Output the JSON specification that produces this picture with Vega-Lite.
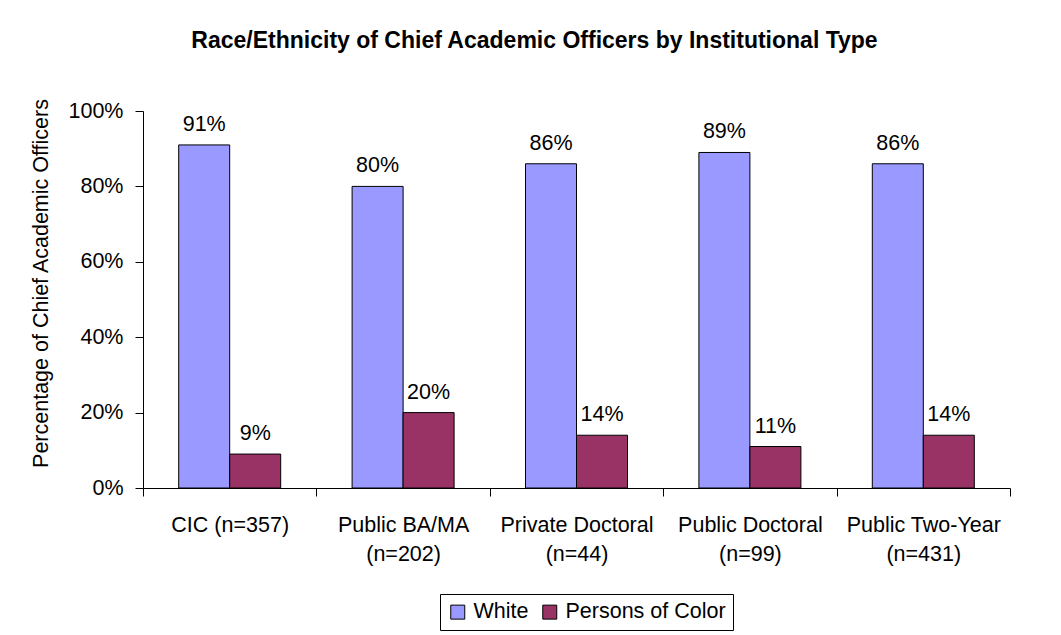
{
  "$schema": "https://vega.github.io/schema/vega-lite/v6.json",
  "width": 867,
  "height": 377,
  "autosize": {"type": "none"},
  "padding": {"left": 143, "top": 111, "right": 51, "bottom": 147},
  "background": "white",
  "config": {
    "font": "Liberation Sans",
    "view": {"stroke": null},
    "axis": {"labelColor": "black", "titleColor": "black", "domainColor": "black", "tickColor": "black", "labelFont": "Liberation Sans", "titleFont": "Liberation Sans"}
  },
  "title": {
    "text": "Race/Ethnicity of Chief Academic Officers by Institutional Type",
    "font": "Liberation Sans",
    "fontSize": 23,
    "fontWeight": "bold",
    "color": "black",
    "frame": "group",
    "anchor": "middle",
    "dx": -42,
    "offset": 27,
    "baseline": "alphabetic"
  },
  "data": {
    "values": [
      {"institution": "CIC (n=357)", "group": "White", "value": 0.91},
      {"institution": "CIC (n=357)", "group": "Persons of Color", "value": 0.09},
      {"institution": "Public BA/MA (n=202)", "group": "White", "value": 0.80},
      {"institution": "Public BA/MA (n=202)", "group": "Persons of Color", "value": 0.20},
      {"institution": "Private Doctoral (n=44)", "group": "White", "value": 0.86},
      {"institution": "Private Doctoral (n=44)", "group": "Persons of Color", "value": 0.14},
      {"institution": "Public Doctoral (n=99)", "group": "White", "value": 0.89},
      {"institution": "Public Doctoral (n=99)", "group": "Persons of Color", "value": 0.11},
      {"institution": "Public Two-Year (n=431)", "group": "White", "value": 0.86},
      {"institution": "Public Two-Year (n=431)", "group": "Persons of Color", "value": 0.14}
    ]
  },
  "encoding": {
    "x": {
      "field": "institution",
      "type": "nominal",
      "sort": ["CIC (n=357)", "Public BA/MA (n=202)", "Private Doctoral (n=44)", "Public Doctoral (n=99)", "Public Two-Year (n=431)"],
      "scale": {"paddingInner": 0, "paddingOuter": 0},
      "axis": {
        "title": null,
        "labelAngle": 0,
        "tickBand": "extent",
        "tickSize": 8,
        "labelPadding": 18,
        "labelFontSize": 21.5,
        "labelLineHeight": 29,
        "labelLimit": 300,
        "labelExpr": "!isValid(datum.value) ? '' : (datum.value == 'CIC (n=357)' ? datum.value : split(replace(datum.value, ' (', '|('), '|'))"
      }
    },
    "xOffset": {
      "field": "group",
      "type": "nominal",
      "sort": ["White", "Persons of Color"],
      "scale": {"paddingInner": 0, "paddingOuter": 0.7}
    },
    "y": {
      "field": "value",
      "type": "quantitative",
      "scale": {"domain": [0, 1]},
      "axis": {
        "title": "Percentage of Chief Academic Officers",
        "titleFontSize": 21.5,
        "titleFontWeight": "normal",
        "titleX": -102,
        "titleY": 172,
        "titleAngle": -90,
        "titleAlign": "center",
        "titleBaseline": "middle",
        "values": [0, 0.2, 0.4, 0.6, 0.8, 1],
        "format": ".0%",
        "grid": false,
        "tickSize": 8,
        "labelPadding": 12,
        "labelFontSize": 21.5
      }
    }
  },
  "layer": [
    {
      "mark": {"type": "bar", "stroke": "black", "strokeWidth": 1},
      "encoding": {
        "color": {
          "field": "group",
          "type": "nominal",
          "scale": {"domain": ["White", "Persons of Color"], "range": ["#9999FF", "#993366"]},
          "legend": {
            "title": null,
            "orient": "none",
            "legendX": 297,
            "legendY": 483,
            "direction": "horizontal",
            "strokeColor": "black",
            "fillColor": "white",
            "padding": 7,
            "symbolType": "square",
            "symbolSize": 196,
            "symbolStrokeColor": "black",
            "symbolStrokeWidth": 1,
            "symbolOpacity": 1,
            "labelFontSize": 21.5,
            "labelFont": "Liberation Sans",
            "labelColor": "black",
            "labelOffset": 5,
            "labelLimit": 300,
            "columnPadding": 10
          }
        }
      }
    },
    {
      "mark": {"type": "text", "baseline": "alphabetic", "dy": -14, "fontSize": 21.5, "color": "black", "font": "Liberation Sans"},
      "encoding": {
        "text": {"field": "value", "type": "quantitative", "format": ".0%"}
      }
    }
  ]
}
